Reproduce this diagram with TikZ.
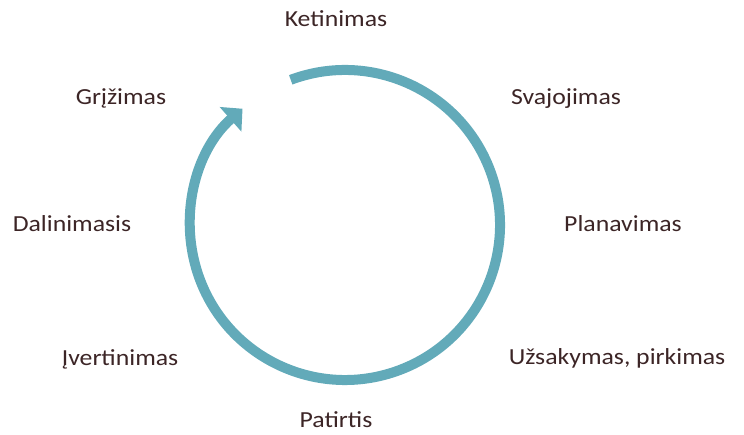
\documentclass[tikz,border=0pt]{standalone}
\usepackage{fontspec}
\setmainfont{Carlito}[FakeStretch=1.12]
\usetikzlibrary{arrows.meta}
\definecolor{ringcol}{HTML}{62AAB9}
\definecolor{labelcol}{HTML}{3C2526}
\begin{document}
\begin{tikzpicture}[x=1pt,y=1pt,
  stage/.style={anchor=base, text=labelcol, inner sep=0pt,
    font=\fontsize{23}{27}\selectfont},
  ring/.style={draw=ringcol, line width=10pt, line cap=butt,
    -{Triangle[length=16pt,width=32pt]}}]
\useasboundingbox (0,0) rectangle (744,435);
% cycle centre
\coordinate (c) at (345,210);
% ring with arrow head, running clockwise
\draw[ring] (c) ++(110.5:155) arc[start angle=110.5, end angle=-228.6, radius=155];
% stage labels (baselines measured from the top edge)
\node[stage] (ket) at (336,435-27)  {Ketinimas};
\node[stage] (sva) at (566,435-105) {Svajojimas};
\node[stage] (pla) at (623,435-232) {Planavimas};
\node[stage] (uzs) at (617,435-365) {Užsakymas, pirkimas};
\node[stage] (pat) at (336,435-428) {Patirtis};
\node[stage] (ive) at (120,435-366) {Įvertinimas};
\node[stage] (dal) at (72,435-232)  {Dalinimasis};
\node[stage] (grz) at (121,435-105) {Grįžimas};
\end{tikzpicture}
\end{document}
